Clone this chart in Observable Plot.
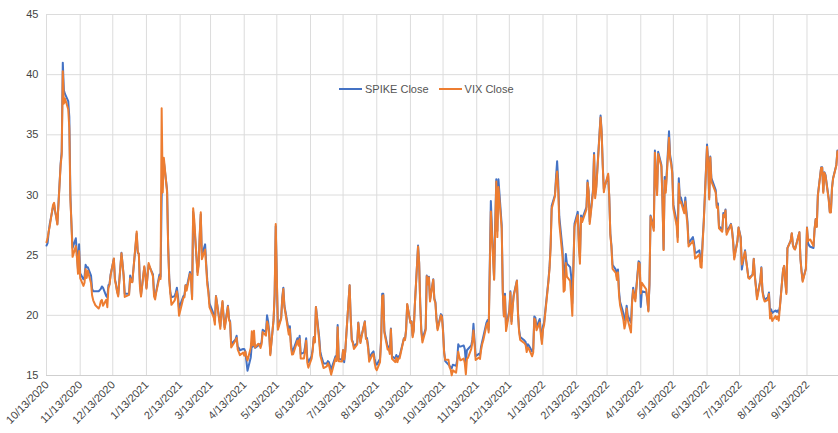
<!DOCTYPE html>
<html>
<head>
<meta charset="utf-8">
<script src="https://cdn.jsdelivr.net/npm/d3@7"></script>
<script src="https://cdn.jsdelivr.net/npm/@observablehq/plot@0.6"></script>
<style>
  html, body { margin: 0; padding: 0; background: #fff; }
  #wrap { position: relative; width: 838px; height: 433px; font-family: Arial, "Liberation Sans", sans-serif; }
  #legend { position: absolute; left: 339px; top: 83px; display: flex; align-items: center; font-size: 11px; color: #555; white-space: nowrap; }
  #legend .sw { display: inline-block; width: 23px; height: 2px; margin-right: 3px; }
  #legend .item { display: flex; align-items: center; margin-right: 10px; }
</style>
</head>
<body>
<div id="wrap"><div id="chart"></div><div id="legend"></div></div>
<script>
const seriesNames = ["SPIKE Close", "VIX Close"];
const seriesColors = ["#4472C4", "#ED7D31"];

const tickLabels = ["10/13/2020","11/13/2020","12/13/2020","1/13/2021","2/13/2021","3/13/2021","4/13/2021","5/13/2021","6/13/2021","7/13/2021","8/13/2021","9/13/2021","10/13/2021","11/13/2021","12/13/2021","1/13/2022","2/13/2022","3/13/2022","4/13/2022","5/13/2022","6/13/2022","7/13/2022","8/13/2022","9/13/2022"];
const yTicks = [15, 20, 25, 30, 35, 40, 45];

const dates = [
"2020-10-13","2020-10-14","2020-10-15","2020-10-16","2020-10-19","2020-10-20","2020-10-21","2020-10-22","2020-10-23","2020-10-26","2020-10-27","2020-10-28","2020-10-29","2020-10-30",
"2020-11-02","2020-11-03","2020-11-04","2020-11-05","2020-11-06","2020-11-09","2020-11-10","2020-11-11","2020-11-12","2020-11-13","2020-11-16","2020-11-17","2020-11-18","2020-11-19","2020-11-20","2020-11-23","2020-11-24","2020-11-25","2020-11-27","2020-11-30",
"2020-12-01","2020-12-02","2020-12-03","2020-12-04","2020-12-07","2020-12-08","2020-12-09","2020-12-10","2020-12-11","2020-12-14","2020-12-15","2020-12-16","2020-12-17","2020-12-18","2020-12-21","2020-12-22","2020-12-23","2020-12-24","2020-12-28","2020-12-29","2020-12-30","2020-12-31",
"2021-01-04","2021-01-05","2021-01-06","2021-01-07","2021-01-08","2021-01-11","2021-01-12","2021-01-13","2021-01-14","2021-01-15","2021-01-19","2021-01-20","2021-01-21","2021-01-22","2021-01-25","2021-01-26","2021-01-27","2021-01-28","2021-01-29",
"2021-02-01","2021-02-02","2021-02-03","2021-02-04","2021-02-05","2021-02-08","2021-02-09","2021-02-10","2021-02-11","2021-02-12","2021-02-16","2021-02-17","2021-02-18","2021-02-19","2021-02-22","2021-02-23","2021-02-24","2021-02-25","2021-02-26",
"2021-03-01","2021-03-02","2021-03-03","2021-03-04","2021-03-05","2021-03-08","2021-03-09","2021-03-10","2021-03-11","2021-03-12","2021-03-15","2021-03-16","2021-03-17","2021-03-18","2021-03-19","2021-03-22","2021-03-23","2021-03-24","2021-03-25","2021-03-26","2021-03-29","2021-03-30","2021-03-31",
"2021-04-01","2021-04-05","2021-04-06","2021-04-07","2021-04-08","2021-04-09","2021-04-12","2021-04-13","2021-04-14","2021-04-15","2021-04-16","2021-04-19","2021-04-20","2021-04-21","2021-04-22","2021-04-23","2021-04-26","2021-04-27","2021-04-28","2021-04-29","2021-04-30",
"2021-05-03","2021-05-04","2021-05-05","2021-05-06","2021-05-07","2021-05-10","2021-05-11","2021-05-12","2021-05-13","2021-05-14","2021-05-17","2021-05-18","2021-05-19","2021-05-20","2021-05-21","2021-05-24","2021-05-25","2021-05-26","2021-05-27","2021-05-28",
"2021-06-01","2021-06-02","2021-06-03","2021-06-04","2021-06-07","2021-06-08","2021-06-09","2021-06-10","2021-06-11","2021-06-14","2021-06-15","2021-06-16","2021-06-17","2021-06-18","2021-06-21","2021-06-22","2021-06-23","2021-06-24","2021-06-25","2021-06-28","2021-06-29","2021-06-30",
"2021-07-01","2021-07-02","2021-07-06","2021-07-07","2021-07-08","2021-07-09","2021-07-12","2021-07-13","2021-07-14","2021-07-15","2021-07-16","2021-07-19","2021-07-20","2021-07-21","2021-07-22","2021-07-23","2021-07-26","2021-07-27","2021-07-28","2021-07-29","2021-07-30",
"2021-08-02","2021-08-03","2021-08-04","2021-08-05","2021-08-06","2021-08-09","2021-08-10","2021-08-11","2021-08-12","2021-08-13","2021-08-16","2021-08-17","2021-08-18","2021-08-19","2021-08-20","2021-08-23","2021-08-24","2021-08-25","2021-08-26","2021-08-27","2021-08-30","2021-08-31",
"2021-09-01","2021-09-02","2021-09-03","2021-09-07","2021-09-08","2021-09-09","2021-09-10","2021-09-13","2021-09-14","2021-09-15","2021-09-16","2021-09-17","2021-09-20","2021-09-21","2021-09-22","2021-09-23","2021-09-24","2021-09-27","2021-09-28","2021-09-29","2021-09-30",
"2021-10-01","2021-10-04","2021-10-05","2021-10-06","2021-10-07","2021-10-08","2021-10-11","2021-10-12","2021-10-13","2021-10-14","2021-10-15","2021-10-18","2021-10-19","2021-10-20","2021-10-21","2021-10-22","2021-10-25","2021-10-26","2021-10-27","2021-10-28","2021-10-29",
"2021-11-01","2021-11-02","2021-11-03","2021-11-04","2021-11-05","2021-11-08","2021-11-09","2021-11-10","2021-11-11","2021-11-12","2021-11-15","2021-11-16","2021-11-17","2021-11-18","2021-11-19","2021-11-22","2021-11-23","2021-11-24","2021-11-26","2021-11-29","2021-11-30",
"2021-12-01","2021-12-02","2021-12-03","2021-12-06","2021-12-07","2021-12-08","2021-12-09","2021-12-10","2021-12-13","2021-12-14","2021-12-15","2021-12-16","2021-12-17","2021-12-20","2021-12-21","2021-12-22","2021-12-23","2021-12-27","2021-12-28","2021-12-29","2021-12-30","2021-12-31",
"2022-01-03","2022-01-04","2022-01-05","2022-01-06","2022-01-07","2022-01-10","2022-01-11","2022-01-12","2022-01-13","2022-01-14","2022-01-18","2022-01-19","2022-01-20","2022-01-21","2022-01-24","2022-01-25","2022-01-26","2022-01-27","2022-01-28","2022-01-31",
"2022-02-01","2022-02-02","2022-02-03","2022-02-04","2022-02-07","2022-02-08","2022-02-09","2022-02-10","2022-02-11","2022-02-14","2022-02-15","2022-02-16","2022-02-17","2022-02-18","2022-02-22","2022-02-23","2022-02-24","2022-02-25","2022-02-28",
"2022-03-01","2022-03-02","2022-03-03","2022-03-04","2022-03-07","2022-03-08","2022-03-09","2022-03-10","2022-03-11","2022-03-14","2022-03-15","2022-03-16","2022-03-17","2022-03-18","2022-03-21","2022-03-22","2022-03-23","2022-03-24","2022-03-25","2022-03-28","2022-03-29","2022-03-30","2022-03-31",
"2022-04-01","2022-04-04","2022-04-05","2022-04-06","2022-04-07","2022-04-08","2022-04-11","2022-04-12","2022-04-13","2022-04-14","2022-04-18","2022-04-19","2022-04-20","2022-04-21","2022-04-22","2022-04-25","2022-04-26","2022-04-27","2022-04-28","2022-04-29",
"2022-05-02","2022-05-03","2022-05-04","2022-05-05","2022-05-06","2022-05-09","2022-05-10","2022-05-11","2022-05-12","2022-05-13","2022-05-16","2022-05-17","2022-05-18","2022-05-19","2022-05-20","2022-05-23","2022-05-24","2022-05-25","2022-05-26","2022-05-27","2022-05-31",
"2022-06-01","2022-06-02","2022-06-03","2022-06-06","2022-06-07","2022-06-08","2022-06-09","2022-06-10","2022-06-13","2022-06-14","2022-06-15","2022-06-16","2022-06-17","2022-06-21","2022-06-22","2022-06-23","2022-06-24","2022-06-27","2022-06-28","2022-06-29","2022-06-30",
"2022-07-01","2022-07-05","2022-07-06","2022-07-07","2022-07-08","2022-07-11","2022-07-12","2022-07-13","2022-07-14","2022-07-15","2022-07-18","2022-07-19","2022-07-20","2022-07-21","2022-07-22","2022-07-25","2022-07-26","2022-07-27","2022-07-28","2022-07-29",
"2022-08-01","2022-08-02","2022-08-03","2022-08-04","2022-08-05","2022-08-08","2022-08-09","2022-08-10","2022-08-11","2022-08-12","2022-08-15","2022-08-16","2022-08-17","2022-08-18","2022-08-19","2022-08-22","2022-08-23","2022-08-24","2022-08-25","2022-08-26","2022-08-29","2022-08-30","2022-08-31",
"2022-09-01","2022-09-02","2022-09-06","2022-09-07","2022-09-08","2022-09-09","2022-09-12","2022-09-13","2022-09-14","2022-09-15","2022-09-16","2022-09-19","2022-09-20","2022-09-21","2022-09-22","2022-09-23","2022-09-26","2022-09-27","2022-09-28","2022-09-29","2022-09-30",
"2022-10-03","2022-10-04","2022-10-05","2022-10-06","2022-10-07","2022-10-10","2022-10-11","2022-10-12"
];

const spikeClose = [
25.8,26.0,26.9,27.6,29.0,29.2,28.6,28.2,27.6,32.6,33.6,41.0,38.7,38.4,
37.8,36.5,30.0,27.5,25.6,26.4,25.2,23.8,25.9,23.5,23.0,23.2,24.2,24.0,24.0,23.3,22.2,22.0,22.0,22.0,
22.1,22.2,22.4,22.3,21.6,21.5,22.5,22.6,23.4,24.7,23.0,22.6,22.0,21.7,25.2,24.3,23.3,21.8,21.8,23.3,22.9,22.8,
26.8,25.2,25.1,22.6,21.7,24.0,23.4,22.3,23.3,24.2,23.4,21.9,21.6,22.0,23.4,23.2,29.8,32.9,32.8,
30.4,25.8,23.1,21.9,21.5,21.6,21.9,22.3,21.6,20.6,21.6,21.7,22.5,22.3,23.6,23.2,21.5,28.6,27.5,
23.6,24.3,26.5,28.4,25.0,25.9,24.3,22.9,22.1,21.0,20.3,20.0,19.5,21.6,21.0,19.1,20.3,21.1,19.9,19.0,20.8,19.7,19.5,
17.6,18.0,18.3,17.4,17.3,17.1,17.2,17.2,17.0,16.2,15.4,16.5,17.6,17.4,17.9,17.3,17.5,17.6,17.5,17.8,18.8,
18.6,20.0,19.5,18.6,16.8,19.6,21.6,27.4,23.0,19.0,19.8,21.5,22.3,20.8,20.3,18.7,19.1,17.7,17.0,17.1,
18.1,17.7,18.3,16.8,16.9,17.4,18.1,16.5,16.1,16.6,17.2,18.2,17.8,20.7,18.2,17.0,16.6,16.3,16.0,16.0,16.2,16.1,
15.8,15.5,16.6,16.3,19.2,16.4,16.3,17.1,16.1,17.0,18.4,22.5,19.8,18.0,17.8,17.4,17.7,19.4,18.4,17.8,18.3,
19.5,18.2,18.1,17.5,16.5,16.9,17.0,16.4,16.0,15.9,16.4,18.0,21.8,21.8,18.7,17.4,17.4,17.0,18.9,16.6,16.4,16.7,
16.4,16.6,16.6,18.1,18.0,18.8,20.9,19.4,19.5,18.3,18.8,20.8,25.8,24.4,21.0,18.8,18.0,18.9,23.3,22.6,23.2,
21.3,23.0,21.4,21.1,19.7,18.9,20.1,20.0,18.8,17.0,16.2,15.9,15.8,15.7,15.6,15.9,15.8,16.3,17.6,17.4,17.4,
17.5,17.2,16.1,17.1,17.2,17.5,18.0,19.3,17.9,16.6,16.8,16.7,17.4,17.8,18.2,19.4,19.6,18.8,29.5,23.0,27.5,
31.3,27.0,31.3,27.5,22.0,20.0,21.8,19.0,20.4,22.0,19.5,20.7,21.7,22.9,20.2,18.8,18.2,17.9,17.8,17.3,17.6,17.5,
17.0,17.2,19.9,19.8,19.0,19.7,18.7,17.9,19.1,19.4,22.9,24.0,25.8,29.1,30.0,31.5,32.8,31.2,28.2,25.5,
23.0,23.5,25.1,24.3,24.0,23.2,21.0,24.2,27.6,28.6,26.2,24.8,28.3,28.0,29.0,31.2,30.3,27.8,30.4,
33.5,30.0,30.7,32.1,36.6,35.3,32.5,30.5,30.8,31.6,29.8,26.8,25.8,24.2,23.8,23.2,23.8,22.0,21.1,20.2,19.6,19.8,20.8,
20.0,19.4,21.2,22.3,21.7,21.4,24.5,24.4,20.7,22.0,21.9,21.3,20.4,22.5,28.3,27.3,33.7,31.6,30.2,33.6,
32.5,29.5,25.5,31.5,30.4,35.3,33.3,32.8,31.9,29.2,27.8,26.5,31.4,29.7,29.8,28.6,29.8,28.7,27.8,26.0,26.5,
26.0,25.2,25.2,25.4,24.6,24.5,26.3,27.9,34.2,32.9,29.8,33.2,31.4,30.4,29.1,29.3,27.4,27.1,28.5,28.3,28.8,
26.9,27.6,27.1,26.2,24.8,26.2,27.3,26.9,26.5,23.8,25.4,24.6,23.9,23.2,23.1,23.4,24.7,23.3,22.4,21.5,
22.9,24.0,22.1,21.6,21.3,21.5,21.9,20.3,20.5,20.2,20.4,20.3,20.4,20.2,20.7,23.8,24.1,22.9,21.9,25.6,26.2,26.8,25.9,
25.6,25.5,26.9,24.7,23.7,22.9,23.9,27.3,26.0,25.8,25.7,25.6,27.2,28.0,27.4,30.0,32.3,32.3,30.3,31.9,31.7,
29.7,28.6,28.6,30.6,31.4,32.5,33.7,33.6
];

const vixClose = [
26.07,26.40,26.97,27.41,29.18,29.35,28.65,28.11,27.55,32.46,33.35,40.28,37.59,38.02,
37.13,35.55,29.57,27.58,24.86,25.75,24.80,23.45,25.35,23.10,22.45,22.71,23.84,23.11,23.70,22.66,21.64,21.25,20.84,20.57,
20.77,21.17,21.28,20.79,21.30,20.68,22.27,22.52,23.31,24.72,22.89,22.50,21.93,21.57,25.16,24.23,23.31,21.53,21.70,23.08,22.77,22.75,
26.97,25.34,25.07,22.37,21.56,24.08,23.33,22.21,23.25,24.34,23.24,21.58,21.32,21.91,23.19,23.02,37.21,30.21,33.09,
30.24,25.56,22.91,21.77,20.87,21.24,21.63,21.99,21.25,19.97,21.46,21.50,22.49,22.05,23.45,23.11,21.34,28.89,27.95,
23.35,24.10,26.67,28.57,24.66,25.47,24.03,22.56,21.91,20.69,20.03,19.79,19.23,21.58,20.95,18.88,20.30,21.20,19.81,18.86,20.74,19.61,19.40,
17.33,17.91,18.12,17.16,16.95,16.69,16.91,16.65,16.99,16.57,16.25,17.30,18.68,17.50,18.71,17.33,17.64,17.56,17.28,17.61,18.61,
18.31,19.48,19.15,18.39,16.69,19.66,21.84,27.59,23.13,18.81,19.72,21.34,22.18,20.67,20.15,18.40,18.84,17.36,16.74,16.76,
17.90,17.48,18.04,16.42,16.42,17.07,17.89,16.10,15.65,16.39,17.02,18.15,17.75,20.70,17.89,16.66,16.32,15.97,15.62,15.76,16.02,15.83,
15.48,15.07,16.44,16.20,19.00,16.18,16.17,17.12,16.33,17.01,18.45,22.50,19.73,17.91,17.69,17.20,17.58,19.36,18.31,17.70,18.24,
19.46,18.04,17.97,17.28,16.15,16.72,16.79,16.06,15.59,15.45,16.12,17.91,21.57,21.67,18.56,17.15,17.22,16.79,18.84,16.39,16.11,16.48,
16.11,16.41,16.41,18.08,17.96,18.80,20.95,19.37,19.46,18.18,18.69,20.81,25.71,24.36,20.87,18.63,17.75,18.76,23.25,22.56,23.14,
21.15,22.96,21.30,21.00,19.54,18.77,20.00,19.85,18.64,16.86,16.30,16.30,15.70,15.49,15.01,15.43,15.24,15.98,16.98,16.53,16.26,
16.41,16.03,15.10,16.39,16.48,17.22,17.78,18.73,17.66,16.29,16.49,16.37,17.11,17.59,17.91,19.17,19.38,18.58,28.62,22.96,27.19,
31.12,26.50,30.67,27.18,21.89,19.90,21.58,18.69,20.31,21.89,19.29,20.57,21.57,22.87,20.08,18.63,17.96,17.68,17.54,16.95,17.33,17.22,
16.60,16.91,19.73,19.61,18.76,19.40,18.41,17.62,18.83,19.19,22.79,23.85,25.59,28.85,29.90,31.16,31.96,30.49,27.66,24.83,
21.96,22.09,24.35,23.22,22.86,21.44,19.96,23.91,27.36,28.33,25.70,24.29,28.11,27.75,28.81,31.02,30.32,27.59,30.15,
33.32,29.74,30.48,31.98,36.45,35.13,32.45,30.23,30.75,31.77,29.83,26.67,25.67,23.87,23.53,22.94,23.57,21.67,20.81,19.63,18.90,19.33,20.56,
19.63,18.57,21.03,22.10,21.55,21.16,24.37,24.26,21.82,22.70,22.17,21.37,20.32,22.68,28.21,27.02,33.52,31.60,29.99,33.40,
32.34,29.25,25.42,31.20,30.19,34.75,32.99,32.56,31.77,28.87,27.47,26.10,30.96,29.35,29.43,28.48,29.45,28.37,27.50,25.72,26.19,
25.69,24.72,24.79,25.07,24.02,23.96,26.09,27.75,34.02,32.69,29.62,33.11,31.13,30.19,28.95,29.05,27.23,26.95,28.36,28.16,28.71,
26.70,27.54,27.00,26.08,24.64,26.17,27.29,26.82,26.40,24.23,25.30,24.50,23.88,23.11,23.03,23.36,24.69,23.24,22.33,21.33,
22.84,23.93,21.95,21.44,21.15,21.29,21.77,19.74,20.20,19.53,19.95,19.69,19.90,19.56,20.60,23.80,24.11,22.82,21.78,25.56,26.21,26.83,25.87,
25.56,25.47,26.91,24.64,23.61,22.79,23.87,27.27,26.16,26.27,26.30,25.76,27.16,27.99,27.35,29.92,32.26,32.27,30.18,31.84,31.62,
29.59,28.55,28.55,30.52,31.36,32.45,33.63,33.57
];

if (dates.length !== spikeClose.length || dates.length !== vixClose.length) {
  throw new Error("length mismatch " + dates.length + " " + spikeClose.length + " " + vixClose.length);
}

const parseTick = d3.utcParse("%m/%d/%Y");
const ticks = tickLabels.map(label => ({date: parseTick(label), label}));
const rows = dates.map((d, i) => ({date: new Date(d + "T00:00:00Z"), spike: spikeClose[i], vix: vixClose[i]}));

const chart = Plot.plot({
  width: 838,
  height: 433,
  marginLeft: 46,
  marginRight: 0,
  marginTop: 14,
  marginBottom: 58,
  style: {fontFamily: "Arial, 'Liberation Sans', sans-serif", fontSize: "11px", background: "#fff", overflow: "visible"},
  x: {type: "utc", domain: [rows[0].date, rows[rows.length - 1].date], axis: null},
  y: {domain: [15, 45]},
  marks: [
    Plot.gridY(yTicks, {stroke: "#dcdcdc", strokeOpacity: 1, strokeWidth: 1}),
    Plot.gridX(ticks.map(t => t.date), {stroke: "#dcdcdc", strokeOpacity: 1, strokeWidth: 1}),
    Plot.ruleY([15], {stroke: "#cfcfcf", strokeWidth: 1}),
    Plot.axisY(yTicks, {tickSize: 0, tickPadding: 8, fill: "#444", fontSize: 11, label: null}),
    Plot.text(ticks, {x: "date", text: "label", frameAnchor: "bottom", rotate: -45, textAnchor: "end", dx: 3, dy: 10, fill: "#444", fontSize: 11}),
    Plot.line(rows, {x: "date", y: "spike", stroke: seriesColors[0], strokeWidth: 2}),
    Plot.line(rows, {x: "date", y: "vix", stroke: seriesColors[1], strokeWidth: 2})
  ]
});
document.getElementById("chart").appendChild(chart);

const legend = document.getElementById("legend");
seriesNames.forEach((name, i) => {
  const item = document.createElement("span");
  item.className = "item";
  const sw = document.createElement("span");
  sw.className = "sw";
  sw.style.background = seriesColors[i];
  item.appendChild(sw);
  item.appendChild(document.createTextNode(name));
  legend.appendChild(item);
});
</script>
</body>
</html>
